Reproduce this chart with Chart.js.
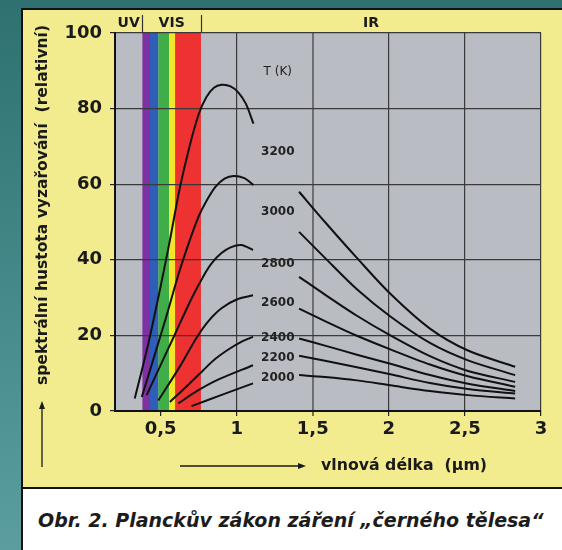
<!DOCTYPE html>
<html>
<head>
<meta charset="utf-8">
<script src="https://cdn.jsdelivr.net/npm/chart.js@4.4.1/dist/chart.umd.min.js"></script>
<style>
  html, body { margin: 0; padding: 0; }
  body {
    width: 562px; height: 550px; overflow: hidden; position: relative;
    background: linear-gradient(180deg, #2f7171 0%, #468a8b 55%, #5c9e9f 100%);
    font-family: "DejaVu Sans", sans-serif;
  }
  #panel {
    position: absolute; left: 21px; top: 8px; width: 541px; height: 480px;
    background: #f2ec8e; border-left: 2px solid #111; border-top: 2px solid #111;
    box-sizing: border-box;
  }
  #caption {
    position: absolute; left: 21px; top: 487px; width: 541px; height: 63px;
    background: #fff; border-left: 2px solid #111; border-top: 2px solid #111;
    box-sizing: border-box; padding: 20px 0 0 15px; white-space: nowrap;
    font: italic bold 19px "DejaVu Sans", sans-serif; color: #1c1c1c;
  }
  #chart { position: absolute; left: 0; top: 0; }
</style>
</head>
<body>
<div id="panel"></div>
<canvas id="chart" width="562" height="550"></canvas>
<div id="caption">Obr. 2. Planckův zákon záření „černého tělesa“</div>

<script>
// x ticks (µm) and the visible-spectrum bands
const xTicks = [0.5, 1, 1.5, 2, 2.5, 3];
const bandEdges = [0.38, 0.43, 0.485, 0.555, 0.595, 0.765];
const bandColors = ["#7d31a3", "#2f5db8", "#3fae48", "#f3e52a", "#ee3131"];
const regionNames = ["UV", "VIS", "IR"];

const temps = ["3200", "3000", "2800", "2600", "2400", "2200", "2000"];

// rising branch of each curve, [wavelength, intensity]
const left3200 = [[0.33, 3.3], [0.42, 18], [0.5, 33], [0.56, 45], [0.626, 59], [0.69, 70], [0.75, 78.5], [0.8, 83], [0.85, 85.5], [0.9, 86.3], [0.96, 85.9], [1.01, 84.3], [1.06, 81.3], [1.11, 76]];
const left3000 = [[0.376, 3.7], [0.53, 24], [0.62, 36.5], [0.69, 45], [0.75, 51.5], [0.8, 55.5], [0.86, 59.3], [0.92, 61.5], [0.98, 62.2], [1.05, 61.6], [1.11, 59.8]];
const left2800 = [[0.408, 4.2], [0.594, 20.3], [0.7, 29.5], [0.78, 35.6], [0.84, 39.3], [0.9, 41.8], [0.96, 43.3], [1.03, 43.9], [1.107, 42.6]];
const left2600 = [[0.485, 2.8], [0.63, 12], [0.73, 19], [0.81, 23.6], [0.9, 27.2], [1.0, 29.5], [1.107, 30.6]];
const left2400 = [[0.561, 2.4], [0.67, 6.5], [0.78, 10.8], [0.86, 13.8], [0.95, 16.4], [1.03, 18.3], [1.107, 19.6]];
const left2200 = [[0.616, 2], [0.74, 5.3], [0.867, 8.1], [1.107, 12.1]];
const left2000 = [[0.703, 1.3], [0.91, 4.4], [1.107, 7.3]];

// falling branch, shared wavelengths
const rightX = [1.41, 1.58, 1.79, 2.01, 2.27, 2.52, 2.83];
const right3200 = [58, 50, 40.5, 31, 21.8, 16, 11.7];
const right3000 = [47.4, 40.5, 32.2, 25, 18, 13.4, 9.5];
const right2800 = [35.5, 30.8, 25.2, 20, 14.5, 10.6, 7.7];
const right2600 = [27.1, 23.8, 19.9, 16.3, 12.3, 9.2, 6.4];
const right2400 = [19.2, 17.3, 14.9, 12.5, 9.5, 7.2, 5.3];
const right2200 = [14.6, 13.3, 11.6, 9.7, 7.4, 5.8, 4.6];
const right2000 = [9.5, 9, 8.1, 6.8, 5.3, 4.2, 3.3];

// where the "T (K)" heading and temperature labels sit (intensity units)
const labelX = 1.27;
const labelY = [89.7, 68.6, 52.7, 38.9, 28.5, 19.3, 14, 8.7];

const leftParts = [left3200, left3000, left2800, left2600, left2400, left2200, left2000];
const rightParts = [right3200, right3000, right2800, right2600, right2400, right2200, right2000];

const FONT = '"DejaVu Sans", sans-serif';
const INK = "#1a1a1a";

function curve(points) {
  return {
    data: points.map(([x, y]) => ({ x, y })),
    borderColor: "#111",
    borderWidth: 2,
    pointRadius: 0,
    fill: false,
    tension: 0.3,
  };
}

const datasets = [];
temps.forEach((t, i) => {
  datasets.push({ label: t, ...curve(leftParts[i]) });
  datasets.push({ label: t, ...curve(rightX.map((x, j) => [x, rightParts[i][j]])) });
});

const backdrop = {
  id: "backdrop",
  beforeDraw(chart) {
    const { ctx, chartArea: a, scales: { x } } = chart;
    ctx.save();
    ctx.fillStyle = "#b9bcc2";
    ctx.fillRect(a.left, a.top, a.right - a.left, a.bottom - a.top);
    bandColors.forEach((c, i) => {
      const x0 = x.getPixelForValue(bandEdges[i]);
      const x1 = x.getPixelForValue(bandEdges[i + 1]);
      ctx.fillStyle = c;
      ctx.fillRect(x0, a.top, x1 - x0, a.bottom - a.top);
    });
    ctx.restore();
  },
};

function arrowHead(ctx, x, y, dir) {
  ctx.beginPath();
  if (dir === "up") {
    ctx.moveTo(x, y); ctx.lineTo(x - 3, y + 8); ctx.lineTo(x + 3, y + 8);
  } else {
    ctx.moveTo(x, y); ctx.lineTo(x - 8, y - 3); ctx.lineTo(x - 8, y + 3);
  }
  ctx.closePath();
  ctx.fill();
}

// draw text squeezed/stretched to the width it has in the original figure
function fitText(ctx, text, x, y, width) {
  const w = ctx.measureText(text).width;
  ctx.save();
  ctx.translate(x, y);
  ctx.scale(width / w, 1);
  ctx.fillText(text, 0, 0);
  ctx.restore();
}

const annotations = {
  id: "annotations",
  afterDraw(chart) {
    const { ctx, chartArea: a, scales: { x, y } } = chart;
    ctx.save();
    ctx.fillStyle = INK;
    ctx.strokeStyle = "#333";

    // UV | VIS | IR header
    const edges = [x.min, bandEdges[0], bandEdges[bandEdges.length - 1], x.max];
    ctx.lineWidth = 1.2;
    [edges[1], edges[2]].forEach((v) => {
      const px = Math.round(x.getPixelForValue(v)) + 0.5;
      ctx.beginPath();
      ctx.moveTo(px, a.top - 18);
      ctx.lineTo(px, a.top);
      ctx.stroke();
    });
    ctx.font = `bold 14px ${FONT}`;
    ctx.textAlign = "center";
    ctx.textBaseline = "middle";
    regionNames.forEach((name, i) => {
      const cx = (x.getPixelForValue(edges[i]) + x.getPixelForValue(edges[i + 1])) / 2;
      ctx.fillText(name, cx, a.top - 10);
    });

    // temperature labels
    ctx.fillStyle = "#222";
    ["T (K)", ...temps].forEach((t, i) => {
      ctx.font = i === 0 ? `12px ${FONT}` : `bold 12px ${FONT}`;
      ctx.fillText(t, x.getPixelForValue(labelX), y.getPixelForValue(labelY[i]));
    });

    // y title with arrow
    ctx.fillStyle = INK;
    ctx.font = `bold 15px ${FONT}`;
    ctx.save();
    ctx.translate(43, 205);
    ctx.rotate(-Math.PI / 2);
    fitText(ctx, "spektrální hustota vyzařování  (relativní)", 0, 0, 360);
    ctx.restore();
    ctx.lineWidth = 1.3;
    ctx.strokeStyle = INK;
    ctx.beginPath();
    ctx.moveTo(42, 467);
    ctx.lineTo(42, 406);
    ctx.stroke();
    arrowHead(ctx, 42, 401, "up");

    // x title with arrow
    ctx.beginPath();
    ctx.moveTo(180, 466);
    ctx.lineTo(300, 466);
    ctx.stroke();
    arrowHead(ctx, 306, 466, "right");
    ctx.textAlign = "left";
    fitText(ctx, "vlnová délka  (µm)", 321, 466, 166);
    ctx.restore();
  },
};

new Chart(document.getElementById("chart"), {
  type: "line",
  data: { datasets },
  options: {
    responsive: false,
    animation: false,
    devicePixelRatio: 1,
    layout: { padding: { left: 0, top: 33, right: 21, bottom: 89 } },
    plugins: { legend: { display: false }, tooltip: { enabled: false } },
    scales: {
      x: {
        type: "linear",
        min: 0.2,
        max: 3,
        afterBuildTicks: (scale) => { scale.ticks = xTicks.map((value) => ({ value })); },
        afterFit: (scale) => { scale.height = 50; },
        border: { color: "#111", width: 2 },
        grid: {
          color: (c) => (c.tick && c.tick.value === 0.5 ? "rgba(0,0,0,0)" : c.tick && c.tick.value === 1.5 ? "#6e6e6e" : "#3a3a3a"),
          lineWidth: (c) => (c.tick && c.tick.value === 1.5 ? 2 : 1.2),
          tickColor: "#222",
          tickLength: 5,
          tickWidth: 1.2,
        },
        ticks: {
          color: INK,
          padding: 3,
          font: { family: FONT, size: 18, weight: "bold" },
          callback: (v) => String(v).replace(".", ","),
        },
      },
      y: {
        min: 0,
        max: 100,
        afterFit: (scale) => { scale.width = 115; },
        border: { color: "#111", width: 2 },
        grid: { color: "#3a3a3a", lineWidth: 1.2, tickColor: "#222", tickLength: 5 },
        ticks: {
          stepSize: 20,
          color: INK,
          padding: 8,
          font: { family: FONT, size: 18, weight: "bold" },
        },
      },
    },
  },
  plugins: [backdrop, annotations],
});
</script>
</body>
</html>
